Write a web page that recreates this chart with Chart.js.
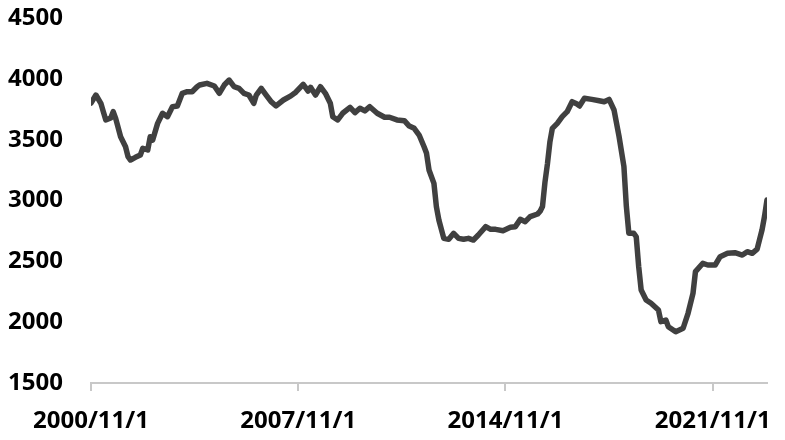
<!DOCTYPE html>
<html>
<head>
<meta charset="utf-8">
<script src="https://cdn.jsdelivr.net/npm/chart.js@4/dist/chart.umd.min.js"></script>
<style>
  body { margin: 0; background: #ffffff; }
  #wrap { width: 785px; height: 440px; }
</style>
</head>
<body>
<div id="wrap"><canvas id="myChart" width="785" height="440"></canvas></div>
<script>
// months counted from 2000/11 (0 = 2000/11/1)
const months = [
  0, 2, 4, 5, 6, 8, 9, 10, 12, 13, 14, 15, 16, 18, 20, 21, 23, 24, 25, 27,
  29, 31, 33, 35, 37, 39, 41, 43, 44, 47, 50, 52, 54, 56, 58, 60, 62, 64, 66, 67,
  69, 71, 73, 75, 78, 81, 83, 86, 88, 89, 91, 93, 95, 97, 98, 100, 102, 105, 107, 109,
  111, 113, 116, 119, 121, 124, 127, 129, 131, 133, 135, 136, 137, 139, 140, 141, 143, 145, 147, 149,
  151, 153, 155, 157, 160, 162, 164, 167, 170, 172, 174, 176, 178, 181, 182, 183, 184, 185, 186, 187,
  189, 191, 193, 195, 197, 198, 200, 203, 206, 208, 210, 212, 214, 216, 217, 218, 220, 221, 222, 223,
  225, 227, 230, 231, 233, 234, 237, 240, 242, 244, 245, 248, 250, 253, 255, 258, 261, 264, 266, 268,
  270, 271, 272, 273, 274
];
const values = [
  3800, 3867, 3799, 3730, 3662, 3678, 3730, 3675, 3524, 3483, 3442, 3360, 3333, 3355, 3374, 3429, 3415, 3524, 3497, 3634,
  3717, 3689, 3771, 3777, 3881, 3894, 3894, 3935, 3949, 3963, 3941, 3881, 3949, 3990, 3935, 3922, 3881, 3867, 3799, 3867,
  3922, 3867, 3812, 3777, 3826, 3860, 3890, 3955, 3900, 3930, 3867, 3935, 3881, 3799, 3689, 3662, 3717, 3766, 3722, 3758,
  3736, 3771, 3717, 3684, 3684, 3662, 3656, 3612, 3593, 3538, 3442, 3388, 3251, 3141, 2949, 2840, 2689, 2681, 2730, 2689,
  2681, 2689, 2675, 2716, 2785, 2763, 2763, 2752, 2780, 2785, 2845, 2826, 2867, 2889, 2910, 2950, 3150, 3300, 3480, 3593,
  3634, 3689, 3730, 3812, 3793, 3777, 3840, 3831, 3820, 3812, 3831, 3744, 3530, 3280, 2950, 2730, 2730, 2702, 2456, 2264,
  2182, 2155, 2100, 2004, 2018, 1963, 1922, 1950, 2073, 2237, 2415, 2484, 2470, 2470, 2538, 2566, 2571, 2552, 2579, 2566,
  2600, 2680, 2760, 2870, 3004
];

const xTickMonths = [0, 84, 168, 252];
const xTickLabels = ['2000/11/1', '2007/11/1', '2014/11/1', '2021/11/1'];
const yTicks = [1500, 2000, 2500, 3000, 3500, 4000, 4500];

const points = months.map((m, i) => ({ x: m, y: values[i] }));
const labelFont = { family: "'Open Sans', sans-serif", size: 24, weight: 'bold' };

const ctx = document.getElementById('myChart').getContext('2d');
new Chart(ctx, {
  type: 'line',
  data: {
    datasets: [{
      data: points,
      borderColor: '#404040',
      borderWidth: 5.5,
      borderJoinStyle: 'round',
      borderCapStyle: 'round',
      pointRadius: 0,
      tension: 0,
      fill: false
    }]
  },
  options: {
    responsive: false,
    animation: false,
    layout: { padding: { top: 18, right: 18, left: 0, bottom: 0 } },
    plugins: { legend: { display: false }, tooltip: { enabled: false } },
    scales: {
      x: {
        type: 'linear',
        min: 0,
        max: 274,
        afterBuildTicks: (scale) => { scale.ticks = xTickMonths.map(v => ({ value: v })); },
        afterFit: (scale) => {
          scale.height = 57;
          // labels may overhang, the plot area should not shrink for them
          scale.paddingLeft = 0;
          scale.paddingRight = 0;
        },
        ticks: {
          autoSkip: false,
          maxRotation: 0,
          padding: 16,
          color: '#000000',
          font: labelFont,
          callback: (value) => xTickLabels[xTickMonths.indexOf(value)]
        },
        grid: { drawOnChartArea: false, drawTicks: true, tickLength: 8, color: '#c8c8c8', lineWidth: 2 },
        border: { display: true, color: '#c8c8c8', width: 2 }
      },
      y: {
        min: 1500,
        max: 4500,
        afterBuildTicks: (scale) => { scale.ticks = yTicks.map(v => ({ value: v })); },
        afterFit: (scale) => {
          scale.width = 91;
          scale.paddingTop = 0;
          scale.paddingBottom = 0;
        },
        ticks: { padding: 28, color: '#000000', font: labelFont, callback: (value) => String(value) },
        grid: { display: false, drawTicks: false },
        border: { display: false }
      }
    }
  }
});
</script>
</body>
</html>
